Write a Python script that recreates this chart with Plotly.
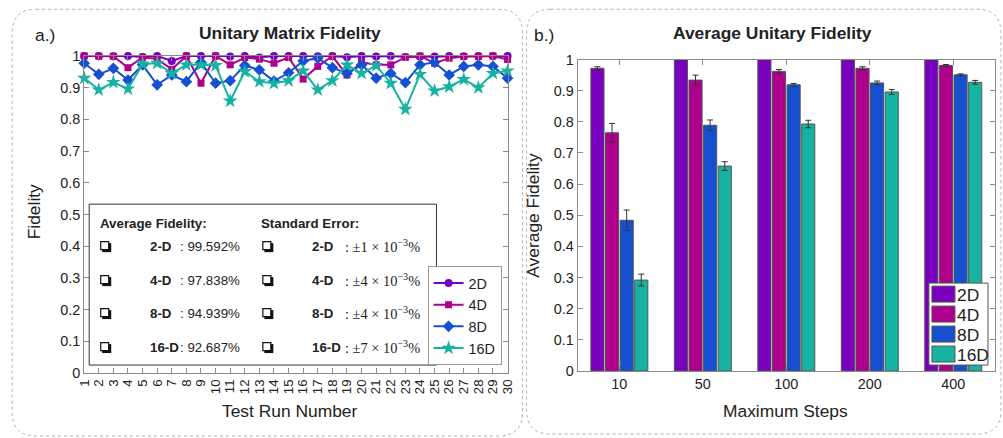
import plotly.graph_objects as go

# The renderer places the figure 8 px in from the page corner and the captured
# region is slightly larger than the target; map target-picture pixels accordingly.
PIC_W, PIC_H = 1003, 438
OX, OY = 8, 8
SX, SY = PIC_W / (PIC_W + 2 * OX), PIC_H / (PIC_H + 2 * OY)
W, H = PIC_W + OX, PIC_H + OY          # figure size in CSS px
FS = 1.0 / ((SX + SY) / 2)             # font compensation

# ---------------- data ----------------
runs = list(range(1, 31))
fid_2d = [1.0, 1.0, 0.999, 1.0, 0.997, 1.0, 0.984, 1.0, 1.0, 1.0, 0.998, 1.0, 0.995, 1.0, 1.0,
          1.0, 0.999, 1.0, 0.996, 1.0, 0.998, 1.0, 0.997, 0.998, 0.998, 1.0, 0.999, 1.0, 1.0, 1.0]
fid_4d = [1.0, 0.999, 0.999, 0.963, 0.996, 0.99, 0.958, 1.0, 0.914, 1.0, 0.972, 0.995, 0.99, 0.977, 0.995,
          0.927, 0.967, 0.999, 0.94, 0.98, 0.972, 0.972, 0.996, 1.0, 0.977, 0.993, 0.998, 0.998, 1.0, 0.989]
fid_8d = [0.977, 0.942, 0.961, 0.924, 0.972, 0.909, 0.94, 0.919, 0.98, 0.914, 0.922, 0.97, 0.956, 0.921, 0.947,
          0.984, 0.993, 0.963, 0.945, 0.972, 0.93, 0.945, 0.916, 0.972, 0.98, 0.94, 0.967, 0.972, 0.967, 0.93]
fid_16d = [0.93, 0.893, 0.917, 0.896, 0.975, 0.977, 0.945, 0.972, 0.972, 0.97, 0.858, 0.951, 0.919, 0.914, 0.922,
           0.953, 0.893, 0.922, 0.972, 0.945, 0.97, 0.914, 0.832, 0.942, 0.89, 0.903, 0.926, 0.9, 0.945, 0.953]

steps = ["10", "50", "100", "200", "400"]
avg_2d = [0.972, 0.999, 1.0, 0.999, 0.999]
err_2d = [0.005, 0.0005, 0.0005, 0.001, 0.0005]
avg_4d = [0.765, 0.934, 0.962, 0.972, 0.981]
err_4d = [0.03, 0.016, 0.006, 0.005, 0.003]
avg_8d = [0.484, 0.789, 0.919, 0.925, 0.951]
err_8d = [0.033, 0.017, 0.004, 0.006, 0.003]
avg_16d = [0.292, 0.658, 0.793, 0.896, 0.927]
err_16d = [0.019, 0.014, 0.012, 0.008, 0.006]

dims = ["2D", "4D", "8D", "16D"]
box_labels = ["2-D", "4-D", "8-D", "16-D"]
box_avg = ["99.592%", "97.838%", "94.939%", "92.687%"]
box_err = ["1", "4", "4", "7"]

colors = ["#7A00BF", "#AE008C", "#1450D0", "#16B2A2"]
symbols = ["circle", "square", "diamond", "star"]
msizes = [8, 7, 9, 11]

# ---------------- helpers (picture pixels -> paper) ----------------
def px(x):
    return (x / SX - OX) / W

def py(y):
    return 1 - (y / SY - OY) / H

def fs(s):
    return round(s * FS, 1)

FONT = "Liberation Sans, Arial, sans-serif"
SERIF = "Liberation Serif, Times New Roman, serif"
TXT = "#222222"
AX = "#8a8a8a"

fig = go.Figure()

# ---------------- left: line chart ----------------
for name, ys, c, s, m in zip(dims, [fid_2d, fid_4d, fid_8d, fid_16d], colors, symbols, msizes):
    fig.add_trace(go.Scatter(
        x=runs, y=ys, name=name, mode="lines+markers",
        line=dict(color=c, width=2),
        marker=dict(symbol=s, size=m, color=c, line=dict(width=0)),
        xaxis="x", yaxis="y", legend="legend", cliponaxis=False,
    ))

# ---------------- right: grouped bars ----------------
for name, ys, es, c in zip(dims, [avg_2d, avg_4d, avg_8d, avg_16d],
                           [err_2d, err_4d, err_8d, err_16d], colors):
    fig.add_trace(go.Bar(
        x=steps, y=ys, name=name, showlegend=False,
        marker=dict(color=c, line=dict(color="#555555", width=1)),
        error_y=dict(type="data", array=es, visible=True, color="#333333", thickness=1, width=3),
        xaxis="x2", yaxis="y2",
    ))

yticks = [i / 10 for i in range(11)]
ytext = ["0"] + [f"{v:.1f}" for v in yticks[1:-1]] + ["1"]

axis_common = dict(showline=True, linecolor=AX, linewidth=1, mirror="ticks",
                   ticks="inside", ticklen=5, tickcolor=AX, showgrid=False, zeroline=False)

fig.update_layout(
    width=W, height=H, autosize=False,
    margin=dict(l=0, r=0, t=0, b=0),
    paper_bgcolor="white", plot_bgcolor="white",
    font=dict(family=FONT, color=TXT, size=fs(14)),
    barmode="group", bargap=0.3, bargroupgap=0.1,
    xaxis=dict(domain=[px(84), px(507)], range=[1, 30], tickmode="array", tickvals=runs,
               ticktext=[str(r) for r in runs], tickangle=-90,
               tickfont=dict(size=fs(13), family=FONT, color=TXT), anchor="y", **axis_common),
    yaxis=dict(domain=[py(373), py(55.7)], range=[0, 1], tickmode="array", tickvals=yticks,
               ticktext=ytext, tickfont=dict(size=fs(14), family=FONT, color=TXT), anchor="x", **axis_common),
    xaxis2=dict(domain=[px(577), px(994)], range=[-0.5, 4.5], type="category",
                tickfont=dict(size=fs(14), family=FONT, color=TXT), anchor="y2", **axis_common),
    yaxis2=dict(domain=[py(371), py(59.3)], range=[0, 1], tickmode="array", tickvals=yticks,
                ticktext=ytext, tickfont=dict(size=fs(14), family=FONT, color=TXT), anchor="x2", **axis_common),
    legend=dict(x=px(501), xanchor="right", y=py(365), yanchor="bottom",
                bgcolor="white", bordercolor="#999999", borderwidth=1,
                font=dict(size=fs(14), family=FONT, color=TXT), tracegroupgap=0, itemwidth=30),
)

# ---------------- panel frames (rounded dotted) ----------------
def rrect(x0, y0, x1, y1, r):
    pts = [
        f"M {px(x0 + r)},{py(y0)}",
        f"L {px(x1 - r)},{py(y0)}",
        f"Q {px(x1)},{py(y0)} {px(x1)},{py(y0 + r)}",
        f"L {px(x1)},{py(y1 - r)}",
        f"Q {px(x1)},{py(y1)} {px(x1 - r)},{py(y1)}",
        f"L {px(x0 + r)},{py(y1)}",
        f"Q {px(x0)},{py(y1)} {px(x0)},{py(y1 - r)}",
        f"L {px(x0)},{py(y0 + r)}",
        f"Q {px(x0)},{py(y0)} {px(x0 + r)},{py(y0)}",
        "Z",
    ]
    return " ".join(pts)

def prect(x0, y0, x1, y1, **kw):
    return dict(type="rect", x0=px(x0), x1=px(x1), y0=py(y1), y1=py(y0),
                xref="paper", yref="paper", **kw)

top = 9
shapes = [
    dict(type="path", path=rrect(12, top, 522, 436, 24),
         xref="paper", yref="paper", line=dict(color="#b0b0b0", width=1, dash="dot"), layer="below"),
    dict(type="path", path=rrect(526, top, 1000, 434, 24),
         xref="paper", yref="paper", line=dict(color="#b0b0b0", width=1, dash="dot"), layer="below"),
    # statistics text box inside left axes
    prect(89, 204, 436, 365, line=dict(color="#333333", width=1), fillcolor="white", layer="above"),
]

row_y = [246, 280, 313, 347]
# checkbox glyphs (square with drop shadow)
for yy in row_y:
    for cx in (105, 267):
        shapes.append(prect(cx - 3, yy - 3, cx + 6, yy + 6, line=dict(width=0), fillcolor="#111111", layer="above"))
        shapes.append(prect(cx - 4.5, yy - 4.5, cx + 3.5, yy + 3.5,
                            line=dict(color="#111111", width=1.2), fillcolor="white", layer="above"))

# bar-chart legend (large colour patches)
shapes.append(prect(928, 283, 987, 365, line=dict(color="#555555", width=1), fillcolor="white", layer="above"))
leg_y0 = [286, 306, 326, 346]
for y0, c in zip(leg_y0, colors):
    shapes.append(prect(931, y0, 954, y0 + 16, line=dict(color="#555555", width=1), fillcolor=c, layer="above"))

fig.update_layout(shapes=shapes)

ann = []

def add_text(x, y, text, size=14, anchor="left", bold=False, family=FONT, angle=0):
    if bold:
        text = f"<b>{text}</b>"
    ann.append(dict(x=px(x), y=py(y), xref="paper", yref="paper", text=text, showarrow=False,
                    xanchor=anchor, yanchor="middle", textangle=angle, borderpad=0,
                    font=dict(size=fs(size), family=family, color=TXT)))

# panel labels and titles
add_text(34, 35, "a.)", size=17)
add_text(532, 35, "b.)", size=17)
add_text(290, 33, "Unitary Matrix Fidelity", size=17, anchor="center", bold=True)
add_text(772, 33, "Average Unitary Fidelity", size=17, anchor="center", bold=True)

# axis titles
add_text(290, 411, "Test Run Number", size=17, anchor="center")
add_text(785, 411, "Maximum Steps", size=17, anchor="center")
add_text(34, 212, "Fidelity", size=17, anchor="center", angle=-90)
add_text(533, 215, "Average Fidelity", size=17, anchor="center", angle=-90)

# statistics box text
add_text(99, 223, "Average Fidelity:", size=13, bold=True)
add_text(260, 223, "Standard Error:", size=13, bold=True)
for yy, lab, av, er in zip(row_y, box_labels, box_avg, box_err):
    add_text(149, yy, lab, size=13, bold=True)
    add_text(179, yy, ": " + av, size=13)
    add_text(311, yy, lab, size=13, bold=True)
    add_text(344, yy, f": ±{er} × 10<sup>−3</sup>%", size=14, family=SERIF)

# bar legend labels
for y0, name in zip(leg_y0, dims):
    add_text(955, y0 + 8.5, name, size=17)

fig.update_layout(annotations=ann)

fig.write_html("out.html")
